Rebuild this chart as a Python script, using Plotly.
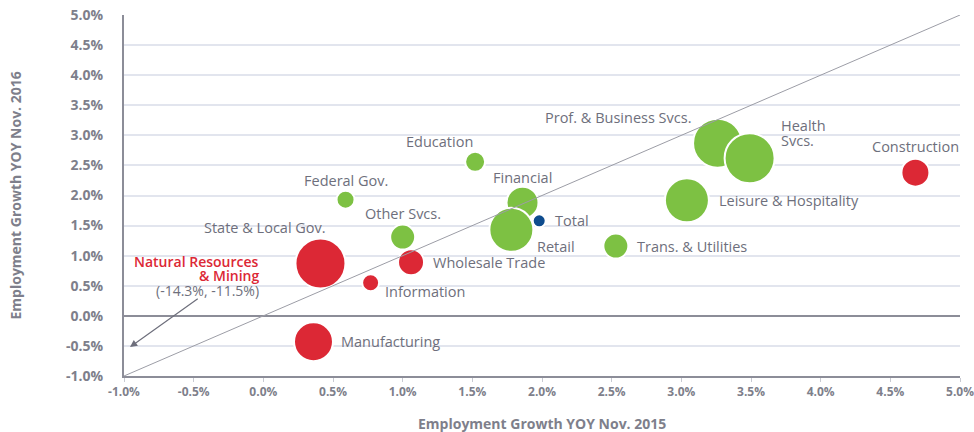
import plotly.graph_objects as go

# ---- data ----
sectors = ["State & Local Gov.", "Manufacturing", "Information", "Wholesale Trade",
           "Other Svcs.", "Federal Gov.", "Education", "Financial", "Retail", "Total",
           "Trans. & Utilities", "Prof. & Business Svcs.", "Health\nSvcs.",
           "Leisure & Hospitality", "Construction"]
growth_2015 = [0.41, 0.36, 0.77, 1.06, 1.00, 0.59, 1.52, 1.86, 1.78, 1.98,
               2.53, 3.26, 3.49, 3.04, 4.68]
growth_2016 = [0.87, -0.43, 0.55, 0.89, 1.31, 1.93, 2.56, 1.88, 1.43, 1.58,
               1.16, 2.87, 2.62, 1.92, 2.38]
bubble_size = [50, 39, 17, 26, 25, 18, 20, 32, 44, 13, 25, 49, 50, 44, 28]
groups = ["red", "red", "red", "red", "green", "green", "green", "green", "green",
          "blue", "green", "green", "green", "green", "red"]
nat_res_label = "Natural Resources\n& Mining"
nat_res_values = (-14.3, -11.5)
x_ticks = [-1.0, -0.5, 0.0, 0.5, 1.0, 1.5, 2.0, 2.5, 3.0, 3.5, 4.0, 4.5, 5.0]
y_ticks = [-1.0, -0.5, 0.0, 0.5, 1.0, 1.5, 2.0, 2.5, 3.0, 3.5, 4.0, 4.5, 5.0]
x_title = "Employment Growth YOY Nov. 2015"
y_title = "Employment Growth YOY Nov. 2016"

# ---- styles ----
COL = {"red": "#DC2835", "green": "#7DC143", "blue": "#0E4C8E"}
TXT = "#6E6F7C"
AX = "#7E7F8B"
FONT = "Open Sans"
# label placement (pixel offsets from bubble centre): xanchor, xshift, yshift
label_pos = {
    "State & Local Gov.": ("center", -55, 36),
    "Manufacturing": ("left", 26, 0),
    "Information": ("left", 12, -9),
    "Wholesale Trade": ("left", 20, 0),
    "Other Svcs.": ("center", 0, 24),
    "Federal Gov.": ("center", 0, 19),
    "Education": ("center", -36, 20),
    "Financial": ("center", 0, 25),
    "Retail": ("left", 24, -17),
    "Total": ("left", 14, 0),
    "Trans. & Utilities": ("left", 19, 0),
    "Prof. & Business Svcs.": ("right", -25, 26),
    "Health\nSvcs.": ("left", 29, 33),
    "Leisure & Hospitality": ("left", 30, 0),
    "Construction": ("center", 0, 26),
}

fig = go.Figure()

fig.add_trace(go.Scatter(
    x=growth_2015, y=growth_2016, mode="markers",
    marker=dict(size=bubble_size, sizemode="diameter",
                color=[COL[g] for g in groups], opacity=1,
                line=dict(color="white", width=2)),
    text=[s.replace("\n", " ") for s in sectors],
    hovertemplate="%{text}<br>2015: %{x:.1f}%<br>2016: %{y:.1f}%<extra></extra>",
    showlegend=False))

# diagonal reference line (x = y), drawn over the bubbles
fig.add_trace(go.Scatter(x=[x_ticks[0], x_ticks[-1]], y=[y_ticks[0], y_ticks[-1]],
                         mode="lines", line=dict(color="#9C9DA6", width=1),
                         hoverinfo="skip", showlegend=False))

annotations = []
for s, x, y in zip(sectors, growth_2015, growth_2016):
    anchor, xs, ys = label_pos[s]
    for i, line in enumerate(s.split("\n")):
        annotations.append(dict(x=x, y=y, xref="x", yref="y", text=line, showarrow=False,
                                xanchor=anchor, yanchor="middle", xshift=xs,
                                yshift=ys - 15 * i,
                                font=dict(family=FONT, size=14.5, color=TXT)))

# Natural Resources & Mining (off-scale)
for i, line in enumerate(nat_res_label.split("\n")):
    annotations.append(dict(x=0, y=1.0, xref="x", yref="y", text=line, showarrow=False,
                            xanchor="right", yanchor="middle", xshift=-2, yshift=-6 - 14 * i,
                            font=dict(family=FONT, size=14, color="#DC2835", weight=600)))
annotations.append(dict(x=0, y=0.4, xref="x", yref="y",
                        text="(%.1f%%, %.1f%%)" % nat_res_values, showarrow=False,
                        xanchor="right", yanchor="middle", xshift=-2, yshift=1,
                        font=dict(family=FONT, size=14, color=TXT)))
annotations.append(dict(x=-0.957, y=-0.52, ax=-0.46, ay=0.30, xref="x", yref="y",
                        axref="x", ayref="y", text="", showarrow=True, arrowhead=2,
                        arrowsize=1.2, arrowwidth=1.2, arrowcolor="#6E6F7C"))

# axis titles
annotations.append(dict(x=0.5, y=0, xref="paper", yref="paper", text=x_title,
                        showarrow=False, xanchor="center", yanchor="middle", yshift=-47,
                        font=dict(family=FONT, size=14, color=AX, weight=700)))
annotations.append(dict(x=0, y=0.5, xref="paper", yref="paper", text=y_title,
                        showarrow=False, xanchor="center", yanchor="middle", xshift=-109,
                        textangle=-90,
                        font=dict(family=FONT, size=14, color=AX, weight=700)))

fig.update_layout(
    width=974, height=432,
    margin=dict(l=124, r=14, t=15, b=56, autoexpand=False),
    paper_bgcolor="white", plot_bgcolor="white",
    font=dict(family=FONT, color=TXT),
    annotations=annotations,
    hovermode="closest",
)
fig.update_xaxes(
    range=[x_ticks[0], x_ticks[-1]], tickvals=x_ticks,
    ticktext=["%.1f%%" % v for v in x_ticks],
    showgrid=False, zeroline=False, automargin=False, ticklabeloverflow="allow",
    showline=True, linecolor="#8C8D98", linewidth=2,
    ticks="outside", ticklen=4, tickcolor="#C8CAD2", tickwidth=1,
    tickfont=dict(family=FONT, size=12, color=AX, weight=700),
)
fig.update_yaxes(
    range=[y_ticks[0], y_ticks[-1]], tickvals=y_ticks,
    ticktext=["%.1f%%" % v for v in y_ticks],
    showgrid=True, gridcolor="#E2E5EE", gridwidth=1.5,
    zeroline=True, zerolinecolor="#8C8D98", zerolinewidth=1.5,
    showline=True, linecolor="#8C8D98", linewidth=2, automargin=False,
    ticks="", ticklabelstandoff=16,
    tickfont=dict(family=FONT, size=14, color=AX, weight=700),
)

fig.write_html("out.html", config={"displayModeBar": False},
               post_script="document.body.style.margin='0';document.body.style.overflow='hidden';")
